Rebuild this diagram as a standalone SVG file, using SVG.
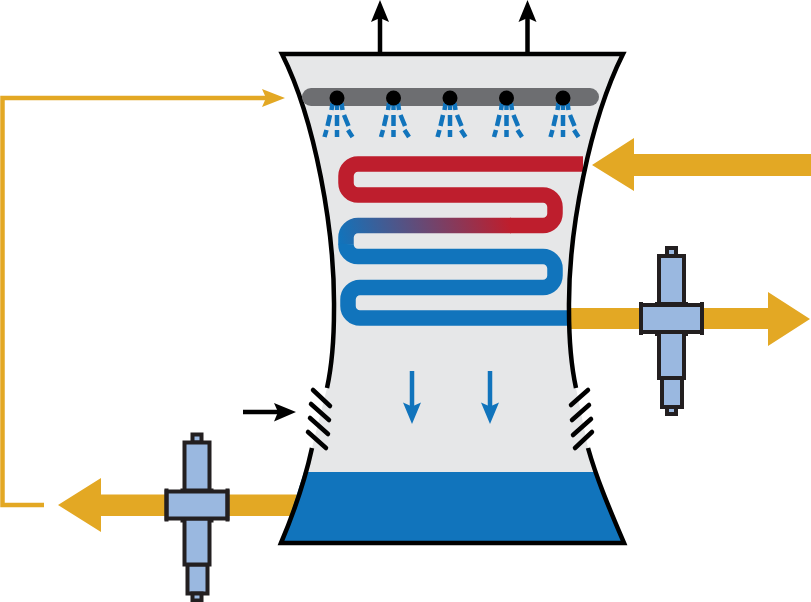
<svg xmlns="http://www.w3.org/2000/svg" xmlns:xlink="http://www.w3.org/1999/xlink" width="811" height="602" viewBox="0 0 811 602">
<style>
.gold{fill:#e3a824}
.goldline{fill:none;stroke:#e3a824;stroke-width:4.500}
.edge{fill:none;stroke:#000;stroke-width:4.500;stroke-miterlimit:10}
.louver{fill:none;stroke:#000;stroke-width:4.500;stroke-linecap:round}
.coil{fill:none;stroke-width:15.500}
.spray{fill:none;stroke:#1174bc;stroke-width:4.500}
.pump{fill:#9ab8e0;stroke:#231f20;stroke-width:4;stroke-linejoin:miter}
.flow{fill:none;stroke:#1174bc;stroke-width:4.500}
.black{fill:#000}
.wire{fill:none;stroke:#000;stroke-width:4.500}
</style>
<defs>
<linearGradient id="mix" gradientUnits="userSpaceOnUse" x1="340" y1="245" x2="505" y2="205">
<stop offset="0" stop-color="#1174bc"/>
<stop offset="1" stop-color="#be1e2d"/>
</linearGradient>
<g id="nozzle">
<path class="spray" d="M-4.500,5L-5.500,12M0,5V12M4.500,5L5.500,12M-7,17L-9.500,28M0,17V28M7,17L11.500,28M-10.500,32L-12.500,39M0,32V39M11,32L15.500,39"/>
<circle cx="0" cy="0" r="7.500" fill="#000"/>
</g>
<g id="pump-shape">
<rect class="pump" x="667" y="248" width="9" height="8"/>
<rect class="pump" x="659" y="256" width="25" height="48"/>
<rect class="pump" x="662" y="378" width="20" height="29"/>
<rect class="pump" x="667" y="407" width="9" height="7"/>
<rect class="pump" x="659" y="332" width="25" height="46"/>
<path class="pump" d="M641,305H702V332H641Z"/>
<path d="M641,302V335M702,302V335M657,302V305M686,302V305M657,332V336M686,332V336" fill="none" stroke="#231f20" stroke-width="4"/>
</g>
</defs>
<g id="streams">
<path class="gold" id="hot-in" d="M811,154V176H634V191L592,165L634,138V154Z"/>
<path class="gold" id="hot-out" d="M566,308H768V292L810,319L768,346V329H566Z"/>
<path class="gold" id="cold-out" d="M300,494.500H101V478L58,505L101,532V516H300Z"/>
</g>
<g id="tower">
<path d="M282,54H623C590,120 568,230 569,310C569,340 571,365 576,388L588,448C597,480 610,510 624,543H281C295,510 305,480 312,448L327,388C332,365 334,340 334,310C335,230 315,120 282,54Z" fill="#e6e7e8"/>
<path id="basin" d="M304,472H595C604,495 614,520 624,543H281C288,523 296,497 304,472Z" fill="#1174bc"/>
</g>
<g id="coil">
<path class="coil" stroke="#be1e2d" d="M583,164H358A12,12 0 0 0 346,176V183A12,12 0 0 0 358,195H543A12,12 0 0 1 555,207V213.500A12,12 0 0 1 543,225.500H510"/>
<path class="coil" stroke="url(#mix)" d="M511,225.500H358A12,12 0 0 0 346,237.500V244.500"/>
<path class="coil" stroke="#1174bc" d="M346,244A12,12 0 0 0 358,256.500H543A12,12 0 0 1 555,268.500V275.500A12,12 0 0 1 543,287.500H360A12,12 0 0 0 348,299.500V306A12,12 0 0 0 360,318H568"/>
</g>
<g id="tower-outline">
<path class="edge" d="M327,388C332,365 334,340 334,310C335,230 315,120 282,54H623C590,120 568,230 569,310C569,340 571,365 576,388"/>
<path class="edge" d="M312,448C305,480 295,510 281,543H624C610,510 597,480 588,448"/>
</g>
<g id="spray-header">
<line x1="311" y1="97" x2="590" y2="97" stroke="#6d6e71" stroke-width="18" stroke-linecap="round"/>
<use xlink:href="#nozzle" href="#nozzle" x="337" y="98"/>
<use xlink:href="#nozzle" href="#nozzle" x="393.500" y="98"/>
<use xlink:href="#nozzle" href="#nozzle" x="450" y="98"/>
<use xlink:href="#nozzle" href="#nozzle" x="506.500" y="98"/>
<use xlink:href="#nozzle" href="#nozzle" x="563" y="98"/>
</g>
<g id="louvers-left">
<path class="louver" d="M313,390L330,406M311,404L329,420M310,418L328,434M308,432L326,448"/>
</g>
<g id="louvers-right">
<path class="louver" d="M571,405L588,390M572,420L589,405M573,435L591,419M575,448L592,432"/>
</g>
<g id="connectors">
<path class="wire" d="M380,53V15M527.500,53V15M243,412H280"/>
<path class="black" d="M380,0L389,22L380,18L371,22Z"/>
<path class="black" d="M527.500,0L536.500,22L527.500,18L518.500,22Z"/>
<path class="black" d="M296,412L274,421.500L278,412L274,403Z"/>
<path class="goldline" d="M44,505H2.500V98H270"/>
<path class="gold" d="M285,98L262,107L266,98L262,89Z"/>
<path class="flow" d="M412,371V410M490,371V410"/>
<path d="M412,424L403,402.500L412,406.500L421,402.500Z" fill="#1174bc"/>
<path d="M490,424L481,402.500L490,406.500L499,402.500Z" fill="#1174bc"/>
</g>
<g id="pump-right"><use xlink:href="#pump-shape" href="#pump-shape"/></g>
<g id="pump-left"><use xlink:href="#pump-shape" href="#pump-shape" transform="translate(-474.500,186.500)"/></g>
</svg>
